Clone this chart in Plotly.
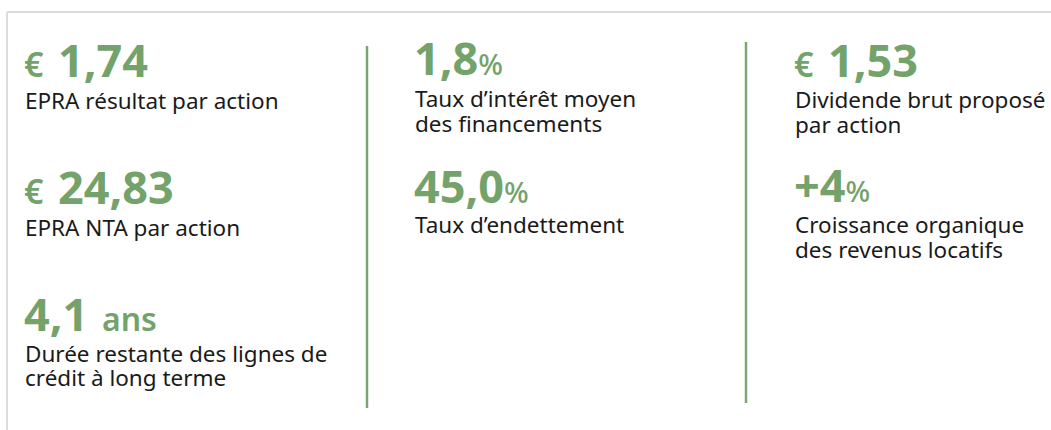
import plotly.graph_objects as go

# ---- data ----
kpi_prefix = ["€", "€", "", "", "", "€", "+"]
kpi_values = ["1,74", "24,83", "4,1", "1,8", "45,0", "1,53", "4"]
kpi_suffix = ["", "", "ans", "%", "%", "", "%"]
kpi_labels = [
    ["EPRA résultat par action"],
    ["EPRA NTA par action"],
    ["Durée restante des lignes de", "crédit à long terme"],
    ["Taux d’intérêt moyen", "des financements"],
    ["Taux d’endettement"],
    ["Dividende brut proposé", "par action"],
    ["Croissance organique", "des revenus locatifs"],
]
# layout positions (x left, baseline of value, baselines of label lines)
kpi_x = [26, 26, 26, 416, 416, 796, 796]
kpi_value_base = [77, 204, 331, 75, 203, 77, 202]
kpi_label_base = [[109], [236], [362, 386], [107, 132], [233], [108, 133], [233, 258]]

GREEN = "#74a26b"
TEXT = "#1a1a1a"
FONT = "Noto Sans"
VAL_SIZE = 45
EURO_SIZE = 34
ANS_SIZE = 32
PCT_SIZE = 29
LABEL_SIZE = 22.5
DESC = 0.293  # font descent ratio

fig = go.Figure()
fig.add_trace(go.Scatter(x=[500], y=[200], mode="markers", marker=dict(opacity=0), hoverinfo="skip", showlegend=False))

ann = []
for i in range(len(kpi_values)):
    parts = []
    if kpi_prefix[i] == "€":
        parts.append(f'<span style="font-size:{EURO_SIZE}px;font-weight:600">€ \u2009</span>')
    elif kpi_prefix[i]:
        parts.append(f'<b>{kpi_prefix[i]}</b>')
    parts.append(f'<b>{kpi_values[i]}</b>')
    if kpi_suffix[i] == "ans":
        parts.append(f'<span style="font-size:{ANS_SIZE}px;font-weight:600"> \u2009ans</span>')
    elif kpi_suffix[i]:
        parts.append(f'<span style="font-size:{PCT_SIZE}px;font-weight:500">{kpi_suffix[i]}</span>')
    ann.append(dict(
        x=kpi_x[i] - 2, y=kpi_value_base[i] + DESC * VAL_SIZE, xref="x", yref="y",
        xanchor="left", yanchor="bottom", showarrow=False, borderpad=0, borderwidth=0,
        text="".join(parts), font=dict(family=FONT, size=VAL_SIZE, color=GREEN),
    ))
    for line, base in zip(kpi_labels[i], kpi_label_base[i]):
        ann.append(dict(
            x=kpi_x[i] - 1, y=base + DESC * LABEL_SIZE, xref="x", yref="y",
            xanchor="left", yanchor="bottom", showarrow=False, borderpad=0, borderwidth=0,
            text=line, font=dict(family=FONT, size=LABEL_SIZE, color=TEXT),
        ))

shapes = [
    dict(type="line", x0=7, x1=1060, y0=12, y1=12, xref="x", yref="y", line=dict(color="#dcdcdc", width=2)),
    dict(type="line", x0=7, x1=7, y0=12, y1=440, xref="x", yref="y", line=dict(color="#dcdcdc", width=2)),
    dict(type="line", x0=367, x1=367, y0=46, y1=408, xref="x", yref="y", line=dict(color="#7aa670", width=2.5)),
    dict(type="line", x0=746, x1=746, y0=42, y1=403, xref="x", yref="y", line=dict(color="#7aa670", width=2.5)),
]

fig.update_layout(
    width=1051, height=430, margin=dict(l=0, r=0, t=0, b=0),
    paper_bgcolor="white", plot_bgcolor="white",
    xaxis=dict(range=[0, 1051], visible=False, fixedrange=True),
    yaxis=dict(range=[430, 0], visible=False, fixedrange=True),
    annotations=ann, shapes=shapes, showlegend=False,
)
fig.write_html(
    "out.html",
    config={"displayModeBar": False},
    post_script="document.body.style.margin='0';document.body.style.overflow='hidden';",
)
